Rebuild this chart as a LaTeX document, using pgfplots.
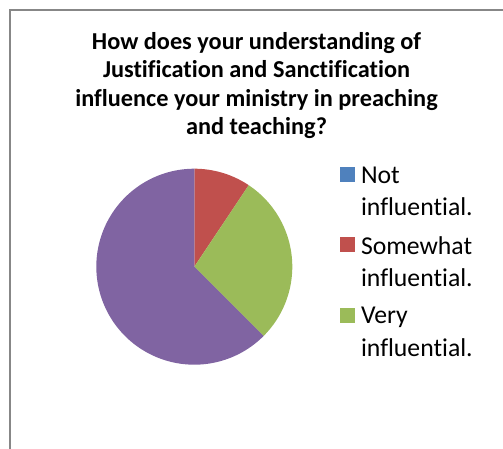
\documentclass[border=0pt]{standalone}
\usepackage{pgfplots}
\pgfplotsset{compat=1.18}
\usepackage{pgfplotstable}
\usepackage{fontspec}
\setmainfont{Carlito}[Ligatures=NoCommon]
\definecolor{cBlue}{HTML}{4F81BD}
\definecolor{cRed}{HTML}{C0504D}
\definecolor{cGreen}{HTML}{9BBB59}
\definecolor{cPurple}{HTML}{8064A2}
\definecolor{cFrame}{HTML}{878787}
\pgfplotstableread{
label value
Not 0
Somewhat 3
Very 9
Other 20
}\piedata
\begin{document}
\begin{tikzpicture}
\pgfplotstablegetelem{0}{value}\of\piedata \let\vA\pgfplotsretval
\pgfplotstablegetelem{1}{value}\of\piedata \let\vB\pgfplotsretval
\pgfplotstablegetelem{2}{value}\of\piedata \let\vC\pgfplotsretval
\pgfplotstablegetelem{3}{value}\of\piedata \let\vD\pgfplotsretval
\pgfmathsetmacro{\tot}{\vA+\vB+\vC+\vD}
\pgfmathsetmacro{\aA}{90-360*\vA/\tot}
\pgfmathsetmacro{\aB}{\aA-360*\vB/\tot}
\pgfmathsetmacro{\aC}{\aB-360*\vC/\tot}
\pgfmathsetmacro{\aD}{\aC-360*\vD/\tot}
\useasboundingbox (0,0) rectangle (503pt,448pt);
\draw[cFrame, line width=2pt] (9.5pt,-20pt) -- (9.5pt,437.5pt) -- (520pt,437.5pt);
\node[anchor=north, align=center, inner sep=0pt, font=\fontsize{24.3}{28.5}\selectfont\bfseries]
  at (256.5pt,416pt) {How does your understanding of\\Justification and Sanctification\\influence your ministry in preaching\\and teaching?};
\begin{axis}[
  at={(194.3pt,181.3pt)}, anchor=center,
  scale only axis, width=196pt, height=196pt,
  xmin=-1, xmax=1, ymin=-1, ymax=1,
  hide axis, clip=false,
  legend image code/.code={\fill[#1] (0pt,-0.5pt) rectangle (15pt,-15.5pt);},
  legend style={at={(1.2434,1.0087)}, anchor=north west, draw=none, fill=none,
    inner sep=0pt, outer sep=0pt, row sep=19pt, column sep=6pt,
    font=\fontsize{25.7}{32.5}\selectfont,
    nodes={inner sep=0pt, anchor=north west, align=left}},
]
\addplot[fill=cBlue, draw=none] coordinates {(0,0)};
\addlegendentry{Not\\influential.}
\addplot[fill=cRed, draw=none, domain=\aB:\aA, samples=40, variable=\t]
  ({cos(\t)},{sin(\t)}) -- (axis cs:0,0) -- cycle;
\addlegendentry{Somewhat\\influential.}
\addplot[fill=cGreen, draw=none, domain=\aC:\aB, samples=60, variable=\t]
  ({cos(\t)},{sin(\t)}) -- (axis cs:0,0) -- cycle;
\addlegendentry{Very\\influential.}
\addplot[fill=cPurple, draw=none, forget plot, domain=\aD:\aC, samples=120, variable=\t]
  ({cos(\t)},{sin(\t)}) -- (axis cs:0,0) -- cycle;
\end{axis}
\end{tikzpicture}
\end{document}
